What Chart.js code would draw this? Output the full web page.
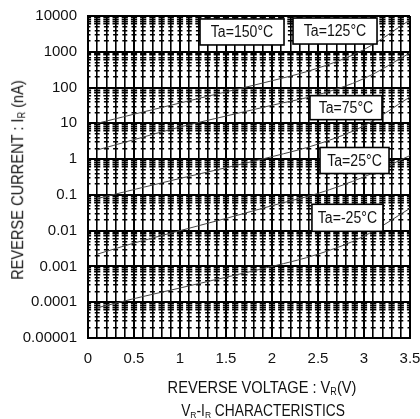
<!DOCTYPE html>
<html>
<head>
<meta charset="utf-8">
<script src="https://cdn.jsdelivr.net/npm/chart.js@4.4.0/dist/chart.umd.min.js"></script>
<style>
  html, body { margin: 0; padding: 0; background: #fff; }
  #wrap { position: relative; width: 420px; height: 419px; overflow: hidden; }
  #wrap canvas { position: absolute; left: 0; top: 0; }
  .ttl { position: absolute; font-family: 'Liberation Sans', Arial, sans-serif; color: #111; white-space: nowrap; line-height: 1; }
  .ttl sub { font-size: 62%; vertical-align: -0.2em; }
  #xTitle { left: 262px; top: 388px; font-size: 17px; transform: translate(-50%, -50%) scaleX(0.86); }
  #xTitle2 { left: 263px; top: 411px; font-size: 16px; transform: translate(-50%, -50%) scaleX(0.86); }
  #yTitle { left: 18px; top: 180px; font-size: 17px; transform: translate(-50%, -50%) rotate(-90deg) scaleX(0.86); }
</style>
</head>
<body>
<div id="wrap">
  <canvas id="vrChart" width="420" height="419"></canvas>
  <div class="ttl" id="yTitle">REVERSE CURRENT : I<sub>R</sub> (nA)</div>
  <div class="ttl" id="xTitle">REVERSE VOLTAGE : V<sub>R</sub>(V)</div>
  <div class="ttl" id="xTitle2">V<sub>R</sub>-I<sub>R</sub> CHARACTERISTICS</div>
</div>
<script>
// reverse voltage (V) and reverse current (nA)
const voltages = [0.1, 0.5, 1.0, 1.5, 2.0, 2.5, 3.0, 3.5];
const ir150 = [10, 18, 37, 76, 155, 350, 1150, 7800];
const ir125 = [1.8, 3.5, 7.9, 16, 32, 63, 178, 930];
const ir75 = [0.079, 0.141, 0.288, 0.575, 1.17, 2.63, 8.5, 55];
const ir25 = [0.0022, 0.0045, 0.01, 0.022, 0.05, 0.11, 0.32, 1.26];
const irM25 = [0.00007, 0.000126, 0.00025, 0.0005, 0.001, 0.0022, 0.007, 0.042];

const tempLabels = ['Ta=150°C', 'Ta=125°C', 'Ta=75°C', 'Ta=25°C', 'Ta=-25°C'];

const xTicks = [0, 0.5, 1, 1.5, 2, 2.5, 3, 3.5];
const xTickLabels = ['0', '0.5', '1', '1.5', '2', '2.5', '3', '3.5'];
const yTicks = [0.00001, 0.0001, 0.001, 0.01, 0.1, 1, 10, 100, 1000, 10000];
const yTickLabels = ['0.00001', '0.0001', '0.001', '0.01', '0.1', '1', '10', '100', '1000', '10000'];

// where the temperature boxes sit (in axis units) and how big they are
const labelSpots = [
  { v: 1.674, i: 3580, w: 84, h: 26 },
  { v: 2.685, i: 3800, w: 84, h: 26 },
  { v: 2.804, i: 27.4, w: 72, h: 24 },
  { v: 2.897, i: 0.914, w: 69, h: 26 },
  { v: 2.82, i: 0.0229, w: 71, h: 27 }
];

// minor grid positions
const minorX = [];
for (let k = 1; k < 35; k++) if (k % 5) minorX.push(k / 10);
const minorYHi = [], minorYLo = [];
yTicks.slice(0, -1).forEach(d => {
  [2, 3, 4, 5].forEach(m => minorYLo.push(m * d));
  [6, 7, 8, 9].forEach(m => minorYHi.push(m * d));
});

const FONT = "'Liberation Sans', Arial, sans-serif";

function toPoints(vals) {
  return vals.map((v, k) => ({ x: voltages[k], y: v }));
}

function series(label, vals) {
  return {
    label: label,
    data: toPoints(vals),
    borderColor: '#444',
    borderWidth: 1,
    pointRadius: 0,
    fill: false,
    cubicInterpolationMode: 'monotone'
  };
}

const tempBoxes = {
  id: 'tempBoxes',
  afterDatasetsDraw(chart) {
    const { ctx } = chart;
    const x = chart.scales.x, y = chart.scales.y;
    ctx.save();
    tempLabels.forEach((txt, k) => {
      const s = labelSpots[k];
      const cx = x.getPixelForValue(s.v);
      const cy = y.getPixelForValue(s.i);
      ctx.fillStyle = '#fff';
      ctx.fillRect(cx - s.w / 2, cy - s.h / 2, s.w, s.h);
      ctx.lineWidth = 1.6;
      ctx.strokeStyle = '#000';
      ctx.strokeRect(cx - s.w / 2, cy - s.h / 2, s.w, s.h);
      ctx.save();
      ctx.translate(cx, cy + 1);
      ctx.scale(0.88, 1);
      ctx.font = '16px ' + FONT;
      ctx.textAlign = 'center';
      ctx.textBaseline = 'middle';
      ctx.fillStyle = '#111';
      ctx.fillText(txt, 0, 0);
      ctx.restore();
    });
    ctx.restore();
  }
};

function minorAxis(type, pos, ticks, width, dash, offset) {
  return {
    type: type,
    position: pos,
    min: type === 'linear' ? 0 : 0.00001,
    max: type === 'linear' ? 3.5 : 10000,
    afterBuildTicks: s => { s.ticks = ticks.map(v => ({ value: v })); },
    afterFit: s => {
      if (pos === 'bottom') s.height = 0; else s.width = 0;
      s.paddingLeft = s.paddingRight = s.paddingTop = s.paddingBottom = 0;
    },
    ticks: { display: false },
    grid: { color: '#000', lineWidth: width, drawTicks: false },
    border: { display: false, dash: dash || [], dashOffset: offset || 0 }
  };
}

new Chart(document.getElementById('vrChart'), {
  type: 'line',
  data: {
    datasets: [
      series(tempLabels[0], ir150),
      series(tempLabels[1], ir125),
      series(tempLabels[2], ir75),
      series(tempLabels[3], ir25),
      series(tempLabels[4], irM25)
    ]
  },
  options: {
    responsive: false,
    animation: false,
    layout: { padding: { top: 16, right: 10, left: 0, bottom: 0 } },
    plugins: { legend: { display: false }, tooltip: { enabled: false } },
    scales: {
      x: {
        type: 'linear',
        position: 'bottom',
        min: 0,
        max: 3.5,
        afterBuildTicks: s => { s.ticks = xTicks.map(v => ({ value: v })); },
        afterFit: s => { s.height = 81; s.paddingLeft = 0; s.paddingRight = 0; },
        ticks: {
          padding: 12,
          color: '#111',
          font: { family: FONT, size: 15 },
          maxRotation: 0,
          callback: (v, k) => xTickLabels[k]
        },
        grid: { color: '#000', lineWidth: 2, drawTicks: false },
        border: { color: '#000', width: 2 }
      },
      xMinor: minorAxis('linear', 'bottom', minorX, 1.6),
      y: {
        type: 'logarithmic',
        position: 'left',
        min: 0.00001,
        max: 10000,
        afterBuildTicks: s => { s.ticks = yTicks.map(v => ({ value: v })); },
        afterFit: s => { s.width = 88; s.paddingTop = 0; s.paddingBottom = 0; },
        ticks: {
          padding: 11,
          color: '#111',
          font: { family: FONT, size: 15 },
          callback: (v, k) => yTickLabels[k]
        },
        grid: { color: '#000', lineWidth: 2, drawTicks: false },
        border: { color: '#000', width: 2 }
      },
      yMinorHi: minorAxis('logarithmic', 'left', minorYHi, 1.6, [6.2, 3], 3.1),
      yMinorLo: minorAxis('logarithmic', 'left', minorYLo, 1.4, [5, 4.2], 2.5)
    }
  },
  plugins: [tempBoxes]
});
</script>
</body>
</html>
